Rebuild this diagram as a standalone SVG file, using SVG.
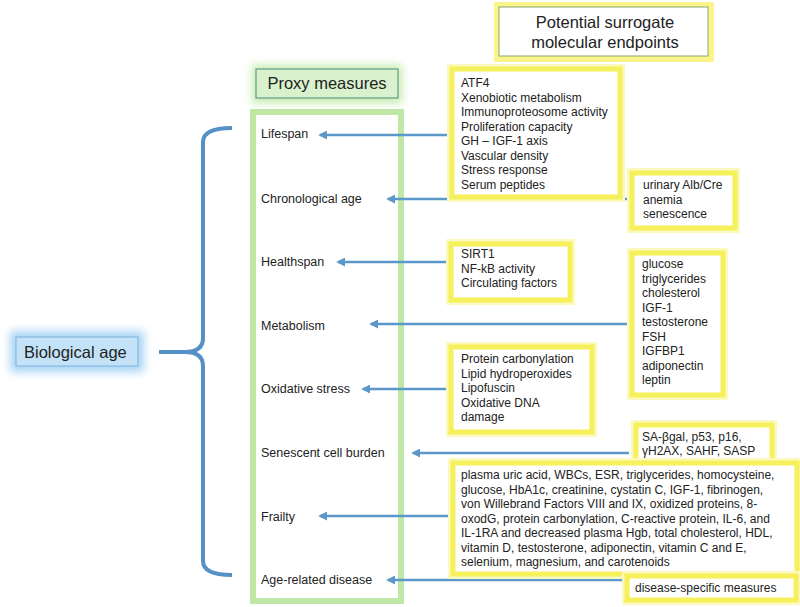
<svg xmlns="http://www.w3.org/2000/svg" width="800" height="607" viewBox="0 0 800 607">
<style>
text{font-family:"Liberation Sans",Arial,sans-serif;fill:#222}
.lbl{font-size:12.5px}
.big{font-size:16.5px}
.sm{font-size:12px}
.yb{fill:#fff;stroke:#f6f15a;stroke-width:5}
.yg{fill:none;stroke:#fbf8c0;stroke-width:10}
.con{stroke:#5b97c9;stroke-width:2.5;fill:none}
</style>
<defs>
<marker id="ah" viewBox="0 0 10 10" refX="8" refY="5" markerWidth="3.6" markerHeight="3.6" orient="auto">
<path d="M0,0 L10,5 L0,10 Z" fill="#5b97c9"/>
</marker>
<filter id="blur" x="-20%" y="-40%" width="140%" height="180%"><feGaussianBlur stdDeviation="4"/></filter>
</defs>

<g id="title">
<rect x="497" y="5" width="214" height="54" fill="none" stroke="#faf48a" stroke-width="6"/>
<rect x="499" y="7" width="209" height="49" fill="#fff" stroke="#8aa870" stroke-width="1"/>
<text class="big" x="605" y="28" text-anchor="middle">Potential surrogate</text>
<text class="big" x="605" y="48" text-anchor="middle">molecular endpoints</text>
</g>

<g id="proxy">
<rect x="252" y="65" width="150" height="38" fill="#c6ecae" filter="url(#blur)"/>
<rect x="256" y="69" width="142" height="29" fill="#d9f2cd" stroke="#4a8c7a" stroke-width="1"/>
<text class="big" x="327" y="89" text-anchor="middle">Proxy measures</text>
</g>

<g id="column">
<rect x="253" y="112" width="148" height="489" fill="none" stroke="#bfe8a6" stroke-width="6"/>
</g>

<g id="bioage">
<rect x="10" y="331" width="134" height="41" fill="#a9d5f5" filter="url(#blur)"/>
<rect x="16" y="337" width="122" height="29" fill="#c3e2f8" stroke="#7fb1dc" stroke-width="1"/>
<text class="big" x="24" y="358">Biological age</text>
</g>

<g id="brace">
<path d="M232,128 Q203,128 203,142 L203,338 Q203,352 185,352 L159,352 M185,352 Q203,352 203,366 L203,561 Q203,575 232,575" fill="none" stroke="#5590c6" stroke-width="4"/>
</g>

<g id="n-lifespan"><text class="lbl" x="261" y="138">Lifespan</text></g>
<g id="n-chrono"><text class="lbl" x="261" y="203">Chronological age</text></g>
<g id="n-health"><text class="lbl" x="261" y="266">Healthspan</text></g>
<g id="n-metab"><text class="lbl" x="261" y="330">Metabolism</text></g>
<g id="n-oxid"><text class="lbl" x="261" y="393">Oxidative stress</text></g>
<g id="n-senes"><text class="lbl" x="261" y="457">Senescent cell burden</text></g>
<g id="n-frailty"><text class="lbl" x="261" y="521">Frailty</text></g>
<g id="n-disease"><text class="lbl" x="261" y="584">Age-related disease</text></g>

<g id="connectors">
<line class="con" x1="452" y1="135" x2="320" y2="135" marker-end="url(#ah)"/>
<line class="con" x1="629" y1="199" x2="388" y2="199" marker-end="url(#ah)"/>
<line class="con" x1="451" y1="262" x2="338" y2="262" marker-end="url(#ah)"/>
<line class="con" x1="629" y1="324" x2="371" y2="324" marker-end="url(#ah)"/>
<line class="con" x1="451" y1="389" x2="363" y2="389" marker-end="url(#ah)"/>
<line class="con" x1="629" y1="453" x2="413" y2="453" marker-end="url(#ah)"/>
<line class="con" x1="451" y1="516" x2="320" y2="516" marker-end="url(#ah)"/>
<line class="con" x1="628" y1="580" x2="388" y2="580" marker-end="url(#ah)"/>
</g>

<g id="b-lifespan">
<rect class="yg" x="452" y="69" width="168" height="128"/>
<rect class="yb" x="452" y="69" width="168" height="128"/>
<text class="sm" x="461">
<tspan x="461" y="87">ATF4</tspan>
<tspan x="461" y="101.5">Xenobiotic  metabolism</tspan>
<tspan x="461" y="116">Immunoproteosome  activity</tspan>
<tspan x="461" y="130.5">Proliferation  capacity</tspan>
<tspan x="461" y="145">GH – IGF-1 axis</tspan>
<tspan x="461" y="159.5">Vascular density</tspan>
<tspan x="461" y="174">Stress response</tspan>
<tspan x="461" y="188.5">Serum  peptides</tspan>
</text>
</g>

<g id="b-chrono">
<rect class="yg" x="632" y="173" width="103" height="55"/>
<rect class="yb" x="632" y="173" width="103" height="55"/>
<text class="sm"><tspan x="643" y="189">urinary Alb/Cre</tspan><tspan x="643" y="203.5">anemia</tspan><tspan x="643" y="218">senescence</tspan></text>
</g>

<g id="b-health">
<rect class="yg" x="451" y="244" width="119" height="56"/>
<rect class="yb" x="451" y="244" width="119" height="56"/>
<text class="sm"><tspan x="461" y="258">SIRT1</tspan><tspan x="461" y="272.5">NF-kB activity</tspan><tspan x="461" y="287">Circulating factors</tspan></text>
</g>

<g id="b-metab">
<rect class="yg" x="632" y="253" width="91" height="142"/>
<rect class="yb" x="632" y="253" width="91" height="142"/>
<text class="sm">
<tspan x="642" y="268">glucose</tspan>
<tspan x="642" y="282.5">triglycerides</tspan>
<tspan x="642" y="297">cholesterol</tspan>
<tspan x="642" y="311.5">IGF-1</tspan>
<tspan x="642" y="326">testosterone</tspan>
<tspan x="642" y="340.5">FSH</tspan>
<tspan x="642" y="355">IGFBP1</tspan>
<tspan x="642" y="369.5">adiponectin</tspan>
<tspan x="642" y="384">leptin</tspan>
</text>
</g>

<g id="b-oxid">
<rect class="yg" x="451" y="347" width="141" height="85"/>
<rect class="yb" x="451" y="347" width="141" height="85"/>
<text class="sm">
<tspan x="461" y="363">Protein  carbonylation</tspan>
<tspan x="461" y="377.5">Lipid  hydroperoxides</tspan>
<tspan x="461" y="392">Lipofuscin</tspan>
<tspan x="461" y="406.5">Oxidative  DNA</tspan>
<tspan x="461" y="421">damage</tspan>
</text>
</g>

<g id="b-senes">
<rect class="yg" x="636" y="425" width="136" height="36"/>
<rect class="yb" x="636" y="425" width="136" height="36"/>
<text class="sm"><tspan x="642" y="441">SA-βgal,  p53,  p16,</tspan><tspan x="642" y="455">γH2AX,  SAHF,  SASP</tspan></text>
</g>

<g id="b-frailty">
<rect class="yg" x="453" y="463" width="344" height="111"/>
<rect class="yb" x="453" y="463" width="344" height="111"/>
<text class="sm">
<tspan x="461" y="479">plasma uric acid, WBCs, ESR, triglycerides, homocysteine,</tspan>
<tspan x="461" y="493.5">glucose, HbA1c, creatinine, cystatin C, IGF-1, fibrinogen,</tspan>
<tspan x="461" y="508">von Willebrand Factors VIII and IX, oxidized proteins, 8-</tspan>
<tspan x="461" y="522.5">oxodG, protein carbonylation, C-reactive protein, IL-6, and</tspan>
<tspan x="461" y="537">IL-1RA and decreased plasma Hgb, total cholesterol, HDL,</tspan>
<tspan x="461" y="551.5">vitamin D, testosterone, adiponectin, vitamin C and E,</tspan>
<tspan x="461" y="566">selenium, magnesium, and carotenoids</tspan>
</text>
</g>

<g id="b-disease">
<rect class="yg" x="627" y="576" width="169" height="24"/>
<rect class="yb" x="627" y="576" width="169" height="24"/>
<text class="sm" x="635" y="592">disease-specific measures</text>
</g>
</svg>
